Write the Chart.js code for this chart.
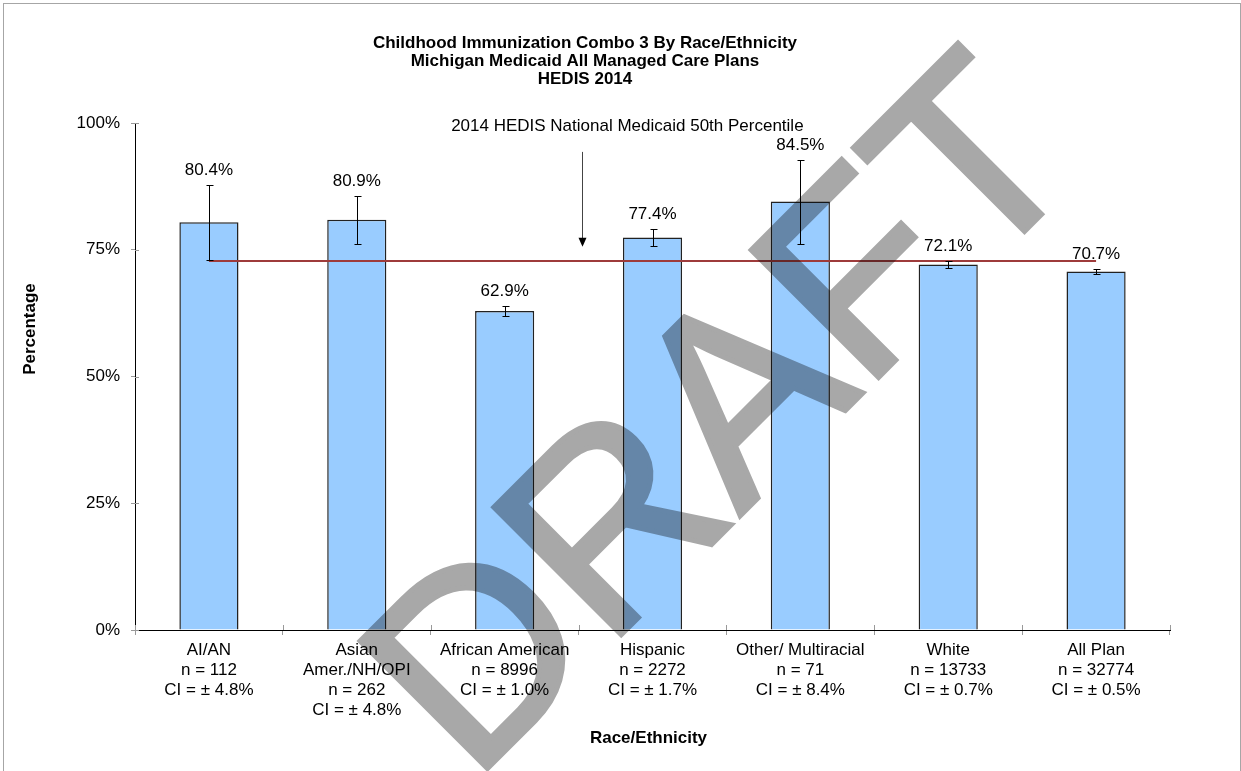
<!DOCTYPE html>
<html><head><meta charset="utf-8">
<script src="https://cdn.jsdelivr.net/npm/chart.js@4.4.1/dist/chart.umd.min.js"></script>
<style>
html,body{margin:0;padding:0;background:#fff;}
#wrap{position:relative;width:1241px;height:771px;overflow:hidden;background:#fff;}
#frame{position:absolute;left:3px;top:3px;width:1238px;height:800px;border:1px solid #a6a6a6;box-sizing:border-box;pointer-events:none;}
canvas{position:absolute;left:0;top:0;}
</style></head>
<body><div id="wrap"><canvas id="c" width="1241" height="771"></canvas><div id="frame"></div></div>
<script>
// ---- data ----
const categoryNames = [["AI/AN"], ["Asian", "Amer./NH/OPI"], ["African American"], ["Hispanic"], ["Other/ Multiracial"], ["White"], ["All Plan"]];
const sampleSizes = ["112", "262", "8996", "2272", "71", "13733", "32774"];
const ciLabels = ["4.8%", "4.8%", "1.0%", "1.7%", "8.4%", "0.7%", "0.5%"];
const rates = [80.4, 80.9, 62.9, 77.4, 84.5, 72.1, 70.7];
const errLow = [73.0, 76.2, 62.0, 75.7, 76.2, 71.4, 70.2];
const errHigh = [87.8, 85.6, 63.9, 79.0, 92.8, 72.7, 71.2];
const benchmarkLine = [72.8, 72.8, 72.8, 72.8, 72.8, 72.8, 72.8];
const yTicks = [0, 25, 50, 75, 100];
const titleLines = ["Childhood Immunization Combo 3 By Race/Ethnicity", "Michigan Medicaid All Managed Care Plans", "HEDIS 2014"];
const annotationText = "2014 HEDIS National Medicaid 50th Percentile";
const xTitle = "Race/Ethnicity";
const yTitle = "Percentage";
const watermark = "DRAFT";

const labels = categoryNames.map((n, i) => [...n, "n = " + sampleSizes[i], "CI = \u00b1 " + ciLabels[i]]);

const FONT = '"Liberation Sans", Arial, Helvetica, sans-serif';
Chart.defaults.font.family = FONT;
Chart.defaults.color = '#000';

const extras = {
  id: 'extras',
  beforeDraw(chart) {
    const ctx = chart.ctx;
    ctx.save();
    ctx.fillStyle = '#fff';
    ctx.fillRect(0, 0, chart.width, chart.height);
    ctx.restore();
  },
  afterDatasetsDraw(chart) {
    const ctx = chart.ctx, x = chart.scales.x, y = chart.scales.y, ca = chart.chartArea;
    ctx.save();
    // inner halves of the cross tick marks
    ctx.strokeStyle = '#999'; ctx.lineWidth = 1;
    yTicks.forEach(v => {
      const py = Math.round(y.getPixelForValue(v)) + 0.5;
      ctx.beginPath(); ctx.moveTo(ca.left, py); ctx.lineTo(ca.left + 4, py); ctx.stroke();
    });
    for (let i = 0; i <= rates.length; i++) {
      const px = Math.round(x.getPixelForValue(i - 0.5)) + 0.5;
      ctx.beginPath(); ctx.moveTo(px, ca.bottom - 5); ctx.lineTo(px, ca.bottom); ctx.stroke();
    }
    // error bars
    const meta = chart.getDatasetMeta(0);
    ctx.strokeStyle = '#000'; ctx.lineWidth = 1;
    meta.data.forEach((bar, i) => {
      const px = Math.round(bar.x) + 0.5;
      const yt = Math.round(y.getPixelForValue(errHigh[i])) + 0.5;
      const yb = Math.round(y.getPixelForValue(errLow[i])) + 0.5;
      ctx.beginPath();
      ctx.moveTo(px, yt); ctx.lineTo(px, yb);
      ctx.moveTo(px - 3, yt); ctx.lineTo(px + 4, yt);
      ctx.moveTo(px - 3, yb); ctx.lineTo(px + 4, yb);
      ctx.stroke();
      // value label
      ctx.fillStyle = '#000';
      ctx.font = '17px ' + FONT;
      ctx.textAlign = 'center'; ctx.textBaseline = 'middle';
      ctx.fillText(rates[i].toFixed(1) + '%', bar.x, yt - 15);
    });
    // annotation
    ctx.font = '17px ' + FONT;
    ctx.textAlign = 'center'; ctx.textBaseline = 'middle';
    ctx.fillText(annotationText, x.getPixelForValue(2.83), y.getPixelForValue(99.4));
    const ax = Math.round(x.getPixelForValue(2.52)) + 0.5;
    const aTop = y.getPixelForValue(94.3), aTip = y.getPixelForValue(75.6);
    ctx.strokeStyle = '#444'; ctx.lineWidth = 1;
    ctx.beginPath(); ctx.moveTo(ax, aTop); ctx.lineTo(ax, aTip - 8); ctx.stroke();
    ctx.fillStyle = '#000';
    ctx.beginPath(); ctx.moveTo(ax - 4, aTip - 9); ctx.lineTo(ax + 4, aTip - 9); ctx.lineTo(ax, aTip); ctx.closePath(); ctx.fill();
    // axis titles
    ctx.font = 'bold 17px ' + FONT;
    ctx.fillText(xTitle, (ca.left + ca.right) / 2 - 4, 738);
    ctx.translate(30, 329); ctx.rotate(-Math.PI / 2);
    ctx.fillText(yTitle, 0, 0);
    ctx.restore();
  },
  afterDraw(chart) {
    const off = document.createElement('canvas');
    off.width = chart.width; off.height = chart.height;
    const o = off.getContext('2d');
    o.translate(781, 475);
    o.rotate(-Math.PI / 4);
    o.font = '262px ' + FONT;
    o.textAlign = 'center'; o.textBaseline = 'alphabetic';
    o.fillStyle = '#a8a8a8'; o.strokeStyle = '#a8a8a8';
    o.lineWidth = 5; o.lineJoin = 'miter';
    o.fillText(watermark, 0, 0);
    o.strokeText(watermark, 0, 0);
    const ctx = chart.ctx;
    ctx.save();
    ctx.globalCompositeOperation = 'multiply';
    ctx.drawImage(off, 0, 0);
    ctx.restore();
  }
};

new Chart(document.getElementById('c'), {
  type: 'bar',
  data: {
    labels: labels,
    datasets: [
      { type: 'bar', data: rates, backgroundColor: '#99ccff', borderColor: '#222', borderWidth: 1.5,
        categoryPercentage: 1, barPercentage: 0.4, order: 2 },
      { type: 'line', data: benchmarkLine, borderColor: '#9e3b3b', borderWidth: 2, pointRadius: 0,
        fill: false, tension: 0, order: 1 }
    ]
  },
  options: {
    responsive: false,
    animation: false,
    devicePixelRatio: 1,
    layout: { padding: { left: 0, right: 71, top: 0, bottom: 0 } },
    plugins: {
      legend: { display: false },
      tooltip: { enabled: false },
      title: { display: true, text: titleLines, color: '#000',
        font: { size: 17, weight: 'bold', lineHeight: 18 / 17 }, padding: { top: 34, bottom: 35 } }
    },
    scales: {
      x: {
        offset: true,
        grid: { offset: true, drawOnChartArea: false, drawTicks: true, tickLength: 5, color: '#999' },
        border: { display: true, color: '#000', width: 1 },
        ticks: { font: { size: 17, lineHeight: 20 / 17 }, color: '#000', padding: 5, maxRotation: 0, minRotation: 0, autoSkip: false },
        afterFit(s) { s.height = 141; }
      },
      y: {
        min: 0, max: 100,
        afterBuildTicks(s) { s.ticks = yTicks.map(v => ({ value: v })); },
        grid: { drawOnChartArea: false, drawTicks: true, tickLength: 4, color: '#999' },
        border: { display: true, color: '#000', width: 1 },
        ticks: { font: { size: 17 }, color: '#000', padding: 11, callback: v => v + '%' },
        afterFit(s) { s.width = 135; }
      }
    }
  },
  plugins: [extras]
});
</script>
</body></html>
